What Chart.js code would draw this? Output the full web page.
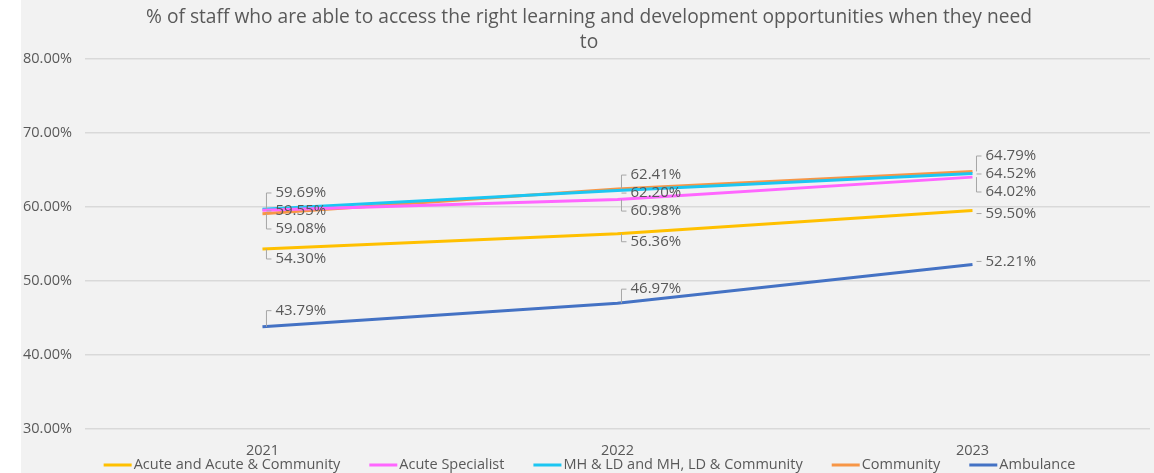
<!DOCTYPE html>
<html>
<head>
<meta charset="utf-8">
<script src="https://cdn.jsdelivr.net/npm/chart.js@4"></script>
<style>
  html, body { margin: 0; padding: 0; background: #ffffff; }
  #wrap { position: absolute; left: 21px; top: 0; width: 1133px; height: 473px; background: #f2f2f2; }
</style>
</head>
<body>
<div id="wrap"><canvas id="chart" width="1133" height="473"></canvas></div>
<script>
const years = ['2021', '2022', '2023'];

const acuteCommunity = [54.30, 56.36, 59.50];
const acuteSpecialist = [59.55, 60.98, 64.02];
const mhLdCommunity = [59.69, 62.20, 64.52];
const community = [59.08, 62.41, 64.79];
const ambulance = [43.79, 46.97, 52.21];

const titleLines = [
    '% of staff who are able to access the right learning and development opportunities when they need',
    'to'
];

const TEXT = '#595959';
const FONT = '"Open Sans", "Noto Sans", sans-serif';

// nudge = how far a lone data label sits from its line per year (px, + is below)
const series = [
    { label: 'Acute and Acute & Community', data: acuteCommunity, color: '#ffc000', nudge: [10, 8, 3] },
    { label: 'Acute Specialist', data: acuteSpecialist, color: '#ff66ff', nudge: [0, 0, 0] },
    { label: 'MH & LD and MH, LD & Community', data: mhLdCommunity, color: '#1cc6f2', nudge: [0, 0, 0] },
    { label: 'Community', data: community, color: '#f79646', nudge: [0, 0, 0] },
    { label: 'Ambulance', data: ambulance, color: '#4472c4', nudge: [-16, -14, -3] }
];

// Excel-style data labels with small leader brackets, spread apart when they crowd together
const leaderLabels = {
    id: 'leaderLabels',
    afterDatasetsDraw(chart) {
        const { ctx } = chart;
        const spacing = 18;
        ctx.save();
        ctx.font = '15px ' + FONT;
        ctx.textBaseline = 'middle';
        ctx.textAlign = 'left';
        years.forEach((_, i) => {
            const items = chart.data.datasets.map((ds, d) => {
                const pt = chart.getDatasetMeta(d).data[i];
                return { x: pt.x, y: pt.y, value: ds.data[i], nudge: series[d].nudge[i] };
            }).sort((a, b) => a.y - b.y);

            // group labels whose points sit close together
            const groups = [];
            items.forEach(it => {
                const last = groups[groups.length - 1];
                if (last && it.y - last[last.length - 1].y < spacing) last.push(it);
                else groups.push([it]);
            });
            groups.forEach(g => {
                if (g.length === 1) {
                    g[0].ly = g[0].y + g[0].nudge;
                } else {
                    const mean = g.reduce((s, it) => s + it.y, 0) / g.length;
                    g.forEach((it, k) => { it.ly = mean + (k - (g.length - 1) / 2) * spacing; });
                }
            });

            items.forEach(it => {
                const bx = it.x + 4;
                ctx.strokeStyle = '#a6a6a6';
                ctx.lineWidth = 1;
                ctx.beginPath();
                if (Math.abs(it.ly - it.y) > 3) {
                    ctx.moveTo(bx + 5, it.ly);
                    ctx.lineTo(bx, it.ly);
                    ctx.lineTo(bx, it.y);
                } else {
                    ctx.moveTo(bx, it.ly);
                    ctx.lineTo(bx + 5, it.ly);
                }
                ctx.stroke();
                ctx.fillStyle = TEXT;
                ctx.fillText(it.value.toFixed(2) + '%', bx + 9, it.ly);
            });
        });
        ctx.restore();
    }
};

// title and legend drawn by hand: the original centres them on the whole frame, not the plot
const frameText = {
    id: 'frameText',
    afterDraw(chart) {
        const { ctx } = chart;
        ctx.save();
        ctx.fillStyle = TEXT;
        ctx.textBaseline = 'middle';

        ctx.font = '19.2px ' + FONT;
        ctx.textAlign = 'center';
        titleLines.forEach((line, k) => ctx.fillText(line, 568, 18 + k * 25));

        const lineLen = 28, gap = 2, itemGap = 29, y = 465;
        ctx.font = '14.5px ' + FONT;
        ctx.textAlign = 'left';
        const widths = chart.data.datasets.map(ds => lineLen + gap + ctx.measureText(ds.label).width);
        const total = widths.reduce((s, w) => s + w, 0) + itemGap * (widths.length - 1);
        let x = (chart.width - total) / 2 + 2;
        chart.data.datasets.forEach((ds, d) => {
            ctx.strokeStyle = ds.borderColor;
            ctx.lineWidth = 3;
            ctx.beginPath();
            ctx.moveTo(x, y);
            ctx.lineTo(x + lineLen, y);
            ctx.stroke();
            ctx.fillText(ds.label, x + lineLen + gap, y);
            x += widths[d] + itemGap;
        });
        ctx.restore();
    }
};

function draw() {
    new Chart(document.getElementById('chart'), {
        type: 'line',
        data: {
            labels: years,
            datasets: series.map(s => ({
                label: s.label,
                data: s.data,
                borderColor: s.color,
                backgroundColor: s.color,
                borderWidth: 3,
                pointRadius: 0,
                tension: 0
            }))
        },
        options: {
            responsive: false,
            animation: false,
            layout: { padding: { left: -11, right: 4, top: 59, bottom: -1 } },
            plugins: {
                title: { display: false },
                legend: { display: false },
                tooltip: { enabled: false }
            },
            scales: {
                x: {
                    offset: true,
                    grid: { display: false, drawTicks: false },
                    border: { display: false },
                    ticks: { color: TEXT, font: { family: FONT, size: 14.5 }, padding: 14 }
                },
                y: {
                    min: 30,
                    max: 80,
                    ticks: {
                        stepSize: 10,
                        color: TEXT,
                        font: { family: FONT, size: 14.5 },
                        padding: 13,
                        callback: v => v.toFixed(2) + '%'
                    },
                    grid: { color: '#d9d9d9', lineWidth: 1.5, drawTicks: false },
                    border: { display: false }
                }
            }
        },
        plugins: [leaderLabels, frameText]
    });
}

// make sure the local font is ready before Chart.js measures any text
Promise.all([
    document.fonts.load('14.5px "Open Sans"'),
    document.fonts.load('19.2px "Open Sans"')
]).then(draw, draw);
</script>
</body>
</html>
